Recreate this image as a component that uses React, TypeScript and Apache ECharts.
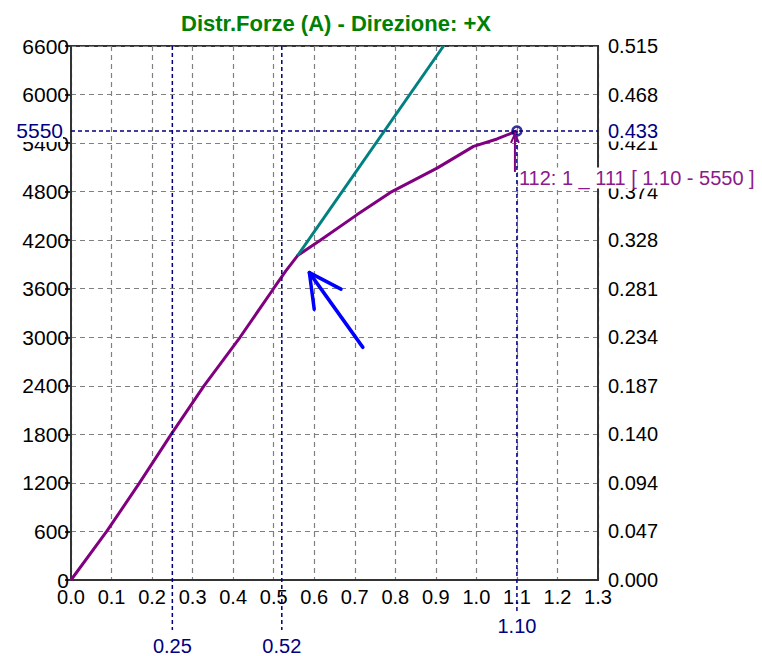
import React, { useEffect, useRef } from "react";
import * as echarts from "echarts";

const titleText = "Distr.Forze (A) - Direzione: +X";
const xMin = 0;
const xMax = 1.3;
const xStep = 0.1;
const yMin = 0;
const yMax = 6600;
const yStep = 600;
const rightTickLabels = ["0.000", "0.047", "0.094", "0.140", "0.187", "0.234", "0.281", "0.328", "0.374", "0.421", "0.468", "0.515"];

const purpleCurve: number[][] = [
  [0, 0], [0.088, 600], [0.169, 1200], [0.247, 1800], [0.328, 2400], [0.417, 3000],
  [0.4995, 3600], [0.53, 3820], [0.559, 4010], [0.615, 4200], [0.705, 4513],
  [0.788, 4790], [0.903, 5091], [0.993, 5359], [1.051, 5451], [1.1, 5550],
];
const tealLine: number[][] = [[0.559, 4010], [0.919, 6600]];

const refXs = [0.25, 0.52];
const refXLabels = ["0.25", "0.52"];
const pointX = 1.1;
const pointY = 5550;
const pointXLabel = "1.10";
const pointYLabel = "5550";
const pointRightLabel = "0.433";
const pointText = "112: 1 _ 111 [ 1.10 - 5550 ]";

// hand-drawn blue arrow, in data coordinates
const arrowShaft: number[][] = [[0.72, 2875], [0.588, 3799]];
const arrowHead: number[][] = [[0.666, 3595], [0.588, 3799], [0.6, 3346]];

const FONT = "'Liberation Sans', Arial, sans-serif";
const NAVY = "#000080";
const PURPLE = "#800080";

export default function App() {
  const ref = useRef<HTMLDivElement>(null);
  useEffect(() => {
    if (!ref.current) return;
    const chart = echarts.init(ref.current, undefined, { renderer: "svg" });
    const axisLine = { show: true, lineStyle: { color: "#333", width: 2 } };
    const gridLine = { show: true, lineStyle: { color: "#808080", type: [5, 4] as any, width: 1.2 } };
    const option: any = {
      animation: false,
      backgroundColor: "#fff",
      title: {
        text: titleText,
        left: 331,
        top: 7,
        textAlign: "center",
        textStyle: { color: "#008000", fontSize: 22, fontWeight: "bold", fontFamily: FONT },
      },
      grid: {
        left: 71, right: 164, top: 46, bottom: 76,
        show: true, borderColor: "#333", borderWidth: 2, backgroundColor: "transparent",
      },
      xAxis: {
        type: "value", min: xMin, max: xMax, interval: xStep,
        axisLine, axisTick: { show: false }, splitLine: gridLine,
        axisLabel: { color: "#000", fontSize: 20, fontFamily: FONT, margin: 7, formatter: (v: number) => v.toFixed(1) },
      },
      yAxis: [
        {
          type: "value", min: yMin, max: yMax, interval: yStep, position: "left",
          axisLine, axisTick: { show: true, length: 6, lineStyle: { color: "#333", width: 2 } }, splitLine: gridLine,
          axisLabel: { color: "#000", fontSize: 21, fontFamily: FONT, margin: 2, formatter: (v: number) => String(Math.round(v)) },
        },
        {
          type: "value", min: yMin, max: yMax, interval: yStep, position: "right",
          axisLine, axisTick: { show: false }, splitLine: { show: false },
          axisLabel: {
            color: "#000", fontSize: 20, fontFamily: FONT, margin: 10,
            formatter: (v: number) => rightTickLabels[Math.round(v / yStep)] ?? "",
          },
        },
      ],
      series: [
        {
          type: "line", data: purpleCurve, showSymbol: false, symbol: "none",
          lineStyle: { color: PURPLE, width: 3 }, z: 3,
        },
        {
          type: "line", data: tealLine, showSymbol: false, symbol: "none",
          lineStyle: { color: "#008080", width: 3 }, z: 4,
        },
        {
          type: "scatter", data: [[pointX, pointY]], symbol: "circle", symbolSize: 9,
          itemStyle: { color: "rgba(0,0,0,0)", borderColor: NAVY, borderWidth: 2.5 }, z: 6,
        },
      ],
    };
    chart.setOption(option);

    const p = (x: number, y: number) => chart.convertToPixel({ gridIndex: 0 }, [x, y]) as number[];
    const g: any[] = [];
    const dash = { stroke: NAVY, lineWidth: 1.5, lineDash: [4, 3] };
    refXs.forEach((x, i) => {
      const top = p(x, yMax);
      const bot = p(x, yMin);
      g.push({ type: "line", z: 50, shape: { x1: top[0], y1: top[1], x2: bot[0], y2: bot[1] + 50 }, style: dash });
      g.push({
        type: "text", z: 50, x: bot[0], y: bot[1] + 66,
        style: { text: refXLabels[i], fill: NAVY, font: `20px ${FONT}`, align: "center", verticalAlign: "middle" },
      });
    });
    const pt = p(pointX, pointY);
    const ptBot = p(pointX, yMin);
    g.push({ type: "line", z: 50, shape: { x1: pt[0], y1: pt[1], x2: ptBot[0], y2: ptBot[1] + 34 }, style: dash });
    g.push({
      type: "text", z: 50, x: ptBot[0], y: ptBot[1] + 46,
      style: { text: pointXLabel, fill: NAVY, font: `20px ${FONT}`, align: "center", verticalAlign: "middle" },
    });
    const hl = p(xMin, pointY);
    const hr = p(xMax, pointY);
    g.push({ type: "line", z: 50, shape: { x1: hl[0], y1: hl[1], x2: hr[0], y2: hr[1] }, style: dash });
    g.push({
      type: "text", z: 60, x: hl[0] - 8, y: hl[1],
      style: { text: pointYLabel, fill: NAVY, font: `21px ${FONT}`, align: "right", verticalAlign: "middle", backgroundColor: "#fff", padding: [0, 0, 1, 0] },
    });
    g.push({
      type: "text", z: 60, x: hr[0] + 10, y: hr[1],
      style: { text: pointRightLabel, fill: NAVY, font: `20px ${FONT}`, align: "left", verticalAlign: "middle", backgroundColor: "#fff", padding: [0, 0, 1, 0] },
    });
    // purple pointer arrow
    g.push({ type: "line", z: 55, shape: { x1: pt[0] - 2, y1: pt[1] + 41, x2: pt[0] - 2, y2: pt[1] + 3 }, style: { stroke: PURPLE, lineWidth: 2 } });
    g.push({ type: "polyline", z: 55, shape: { points: [[pt[0] - 6, pt[1] + 12], [pt[0] - 2, pt[1] + 3], [pt[0] + 2, pt[1] + 12]] }, style: { stroke: PURPLE, lineWidth: 2, fill: "none" } });
    g.push({
      type: "text", z: 60, x: pt[0] + 2, y: pt[1] + 47,
      style: { text: pointText, fill: "#8b1a8b", font: `20px ${FONT}`, align: "left", verticalAlign: "middle", backgroundColor: "#fff", padding: [1, 0, 0, 0] },
    });
    // blue hand-drawn arrow
    g.push({ type: "polyline", z: 55, shape: { points: arrowShaft.map((d) => p(d[0], d[1])) }, style: { stroke: "#0000ff", lineWidth: 3.5, fill: "none", lineCap: "round" } });
    g.push({ type: "polyline", z: 55, shape: { points: arrowHead.map((d) => p(d[0], d[1])) }, style: { stroke: "#0000ff", lineWidth: 3.5, fill: "none", lineCap: "round", lineJoin: "round" } });
    chart.setOption({ graphic: g });

    return () => chart.dispose();
  }, []);
  return <div ref={ref} style={{ position: "fixed", left: 0, top: 0, width: 762, height: 656, background: "#fff" }} />;
}
